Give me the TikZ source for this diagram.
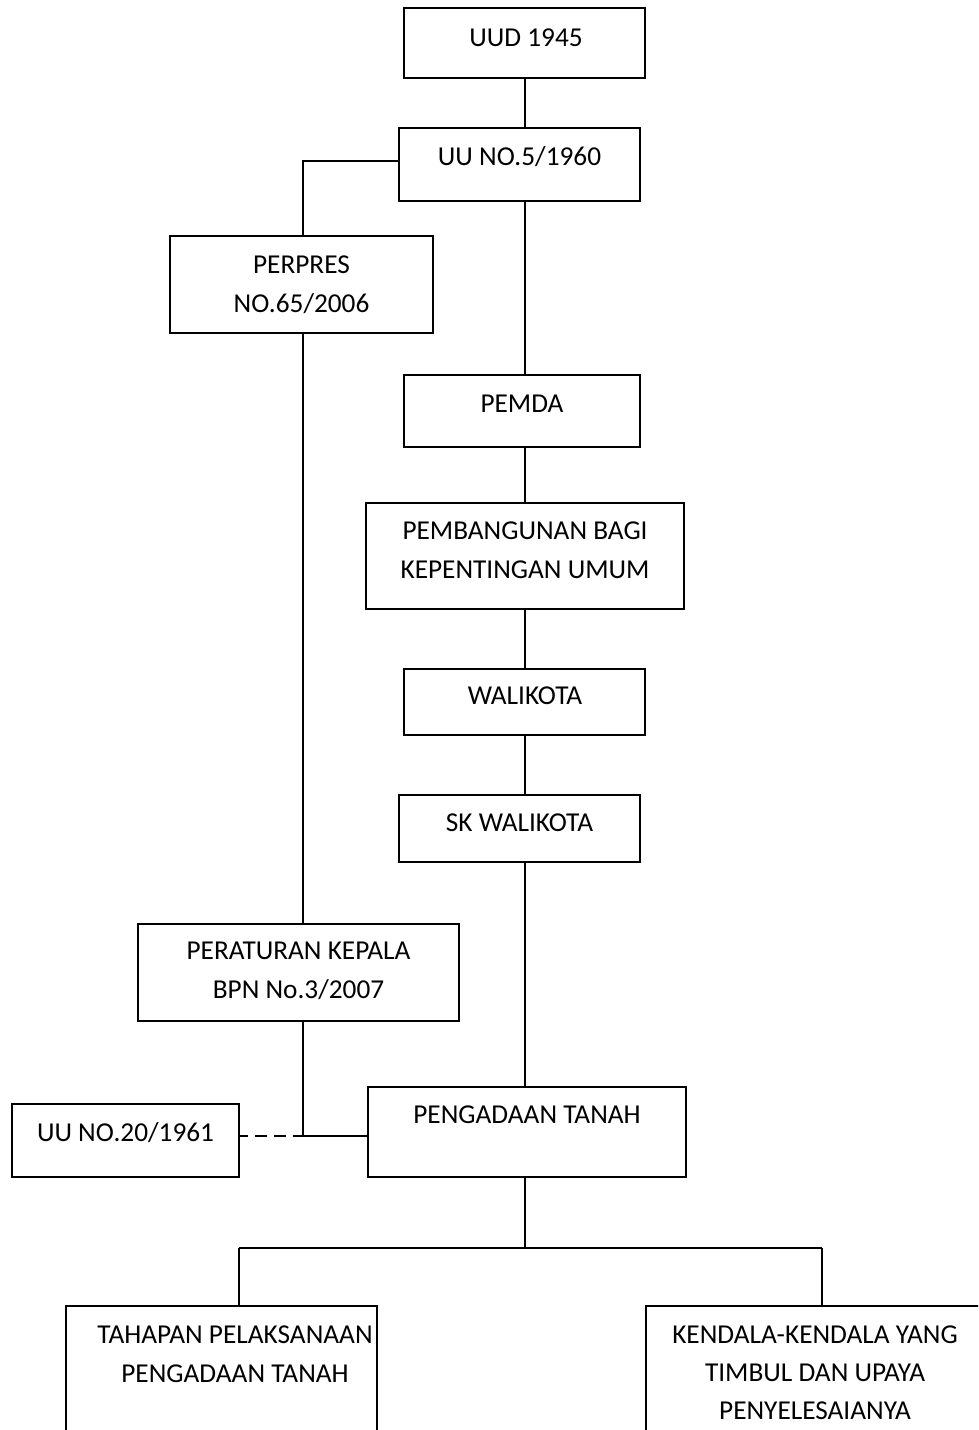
\documentclass[tikz,border=0pt]{standalone}
\usepackage{fontspec}
\setmainfont{Carlito}
\begin{document}
\begin{tikzpicture}[x=1pt,y=-1pt,
  box/.style={draw=black,line width=1.8pt,rectangle,inner sep=0pt,fill=white},
  txt/.style={anchor=base,inner sep=0pt,font=\fontsize{27.3}{39}\selectfont},
  conn/.style={draw=black,line width=1.8pt}]
\clip (0,0) rectangle (978,1430);
\fill[white] (0,0) rectangle (978,1430);
% boxes
\node[box,minimum width=241pt,minimum height=70pt] (uud) at (524.5,43) {};
\node[box,minimum width=241pt,minimum height=73pt] (uu5) at (519.5,164.5) {};
\node[box,minimum width=263pt,minimum height=97pt] (perpres) at (301.5,284.5) {};
\node[box,minimum width=236pt,minimum height=72pt] (pemda) at (522,411) {};
\node[box,minimum width=318pt,minimum height=106pt] (pemb) at (525,556) {};
\node[box,minimum width=241pt,minimum height=66pt] (wali) at (524.5,702) {};
\node[box,minimum width=241pt,minimum height=67pt] (sk) at (519.5,828.5) {};
\node[box,minimum width=321pt,minimum height=97pt] (perat) at (298.5,972.5) {};
\node[box,minimum width=227pt,minimum height=73pt] (uu20) at (125.5,1140.5) {};
\node[box,minimum width=318pt,minimum height=90pt] (peng) at (527,1132) {};
\node[box,minimum width=311pt,minimum height=160pt] (tahap) at (221.5,1386) {};
\node[box,minimum width=338pt,minimum height=160pt] (kend) at (815,1386) {};
% texts
\node[txt] (t1) at (526,46) {UUD 1945};
\node[txt] (t2) at (519.5,165) {UU NO.5/1960};
\node[txt] (t3a) at (301.5,273) {PERPRES};
\node[txt] (t3b) at (301.5,312) {NO.65/2006};
\node[txt] (t4) at (522,412) {PEMDA};
\node[txt] (t5a) at (525,539) {PEMBANGUNAN BAGI};
\node[txt] (t5b) at (525,578) {KEPENTINGAN UMUM};
\node[txt] (t6) at (525,704) {WALIKOTA};
\node[txt] (t7) at (519.5,831) {SK WALIKOTA};
\node[txt] (t8a) at (298.5,959) {PERATURAN KEPALA};
\node[txt] (t8b) at (298.5,998) {BPN No.3/2007};
\node[txt] (t9) at (125.5,1141) {UU NO.20/1961};
\node[txt] (t10) at (527,1123) {PENGADAAN TANAH};
\node[txt] (t11a) at (235,1343) {TAHAPAN PELAKSANAAN};
\node[txt] (t11b) at (235,1382) {PENGADAAN TANAH};
\node[txt] (t12a) at (815,1343) {KENDALA-KENDALA YANG};
\node[txt] (t12b) at (815,1381) {TIMBUL DAN UPAYA};
\node[txt] (t12c) at (815,1419) {PENYELESAIANYA};
% junction coordinates
\coordinate (j1) at (303,161);
\coordinate (j2) at (303,1136);
\coordinate (j3) at (525,1248);
\coordinate (jl) at (239,1248);
\coordinate (jr) at (822,1248);
% connectors
\draw[conn] (uud.south -| 525,0) -- (uu5.north -| 525,0);
\draw[conn] (uu5.south -| 525,0) -- (pemda.north -| 525,0);
\draw[conn] (pemda.south -| 525,0) -- (pemb.north -| 525,0);
\draw[conn] (pemb.south -| 525,0) -- (wali.north -| 525,0);
\draw[conn] (wali.south -| 525,0) -- (sk.north -| 525,0);
\draw[conn] (sk.south -| 525,0) -- (peng.north -| 525,0);
\draw[conn] (uu5.west |- j1) -- (j1) -- (perpres.north -| j1);
\draw[conn] (perpres.south -| j1) -- (perat.north -| j1);
\draw[conn] (perat.south -| j1) -- (j2) -- (peng.west |- j2);
\draw[conn,dash pattern=on 12pt off 7pt,dash phase=4pt] (uu20.east |- j2) -- (j2);
\draw[conn] (peng.south -| j3) -- (j3);
\draw[conn] (jl) -- (jr);
\draw[conn] (jl) -- (tahap.north -| jl);
\draw[conn] (jr) -- (kend.north -| jr);
\end{tikzpicture}
\end{document}
